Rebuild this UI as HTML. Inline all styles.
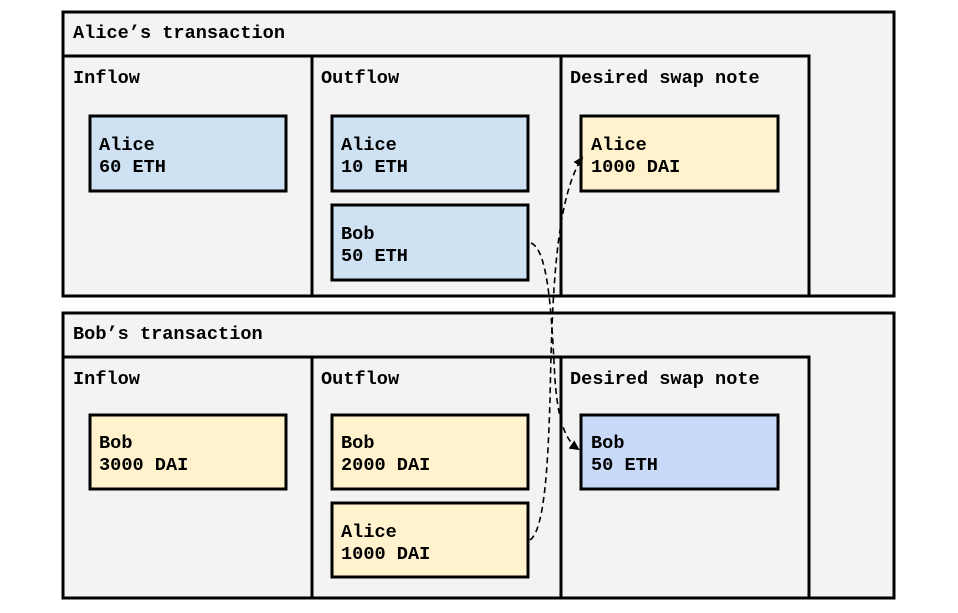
<!DOCTYPE html>
<html><head><style>
body{margin:0;background:#fff;}
svg text{font-family:"Liberation Mono",monospace;font-weight:bold;font-size:18.6px;fill:#000;}
</style></head><body>
<svg width="958" height="608" xmlns="http://www.w3.org/2000/svg">
<defs><marker id="a" markerWidth="10" markerHeight="10" refX="8" refY="5" orient="auto" markerUnits="userSpaceOnUse"><path d="M0,0 L10,5 L0,10 z" fill="#000"/></marker></defs>
<g stroke="#000" stroke-width="3" fill="#f3f3f3">
<rect x="63" y="12" width="831" height="284"/>
<line x1="63" y1="56" x2="809" y2="56"/>
<rect x="63" y="56" width="249" height="240"/>
<rect x="312" y="56" width="249" height="240"/>
<rect x="561" y="56" width="248" height="240"/>
<rect x="63" y="313" width="831" height="285"/>
<rect x="63" y="357" width="249" height="241"/>
<rect x="312" y="357" width="249" height="241"/>
<rect x="561" y="357" width="248" height="241"/>
<rect x="90" y="116" width="196" height="75" fill="#cfe2f3"/>
<rect x="332" y="116" width="196" height="75" fill="#cfe2f3"/>
<rect x="332" y="205" width="196" height="75" fill="#cfe2f3"/>
<rect x="581" y="116" width="197" height="75" fill="#fff2cc"/>
<rect x="90" y="415" width="196" height="74" fill="#fff2cc"/>
<rect x="332" y="415" width="196" height="74" fill="#fff2cc"/>
<rect x="332" y="503" width="196" height="74" fill="#fff2cc"/>
<rect x="581" y="415" width="197" height="74" fill="#c9daf8"/>
</g>
<g fill="none" stroke="#000" stroke-width="1.6" stroke-dasharray="6,4">
<path d="M531,243 C550,250 552,330 555,380 C558,420 565,440 578,449" marker-end="url(#a)"/>
<path d="M530,540 C545,530 548,460 550,400 C552,300 555,200 582,158" marker-end="url(#a)"/>
</g>
<text x="73" y="38">Alice’s transaction</text>
<text x="73" y="83">Inflow</text>
<text x="321" y="83">Outflow</text>
<text x="570" y="83">Desired swap note</text>
<text x="99" y="150">Alice</text><text x="99" y="172">60 ETH</text>
<text x="341" y="150">Alice</text><text x="341" y="172">10 ETH</text>
<text x="341" y="239">Bob</text><text x="341" y="261">50 ETH</text>
<text x="591" y="150">Alice</text><text x="591" y="172">1000 DAI</text>
<text x="73" y="339">Bob’s transaction</text>
<text x="73" y="384">Inflow</text>
<text x="321" y="384">Outflow</text>
<text x="570" y="384">Desired swap note</text>
<text x="99" y="448">Bob</text><text x="99" y="470">3000 DAI</text>
<text x="341" y="448">Bob</text><text x="341" y="470">2000 DAI</text>
<text x="341" y="537">Alice</text><text x="341" y="559">1000 DAI</text>
<text x="591" y="448">Bob</text><text x="591" y="470">50 ETH</text>
</svg>
</body></html>
